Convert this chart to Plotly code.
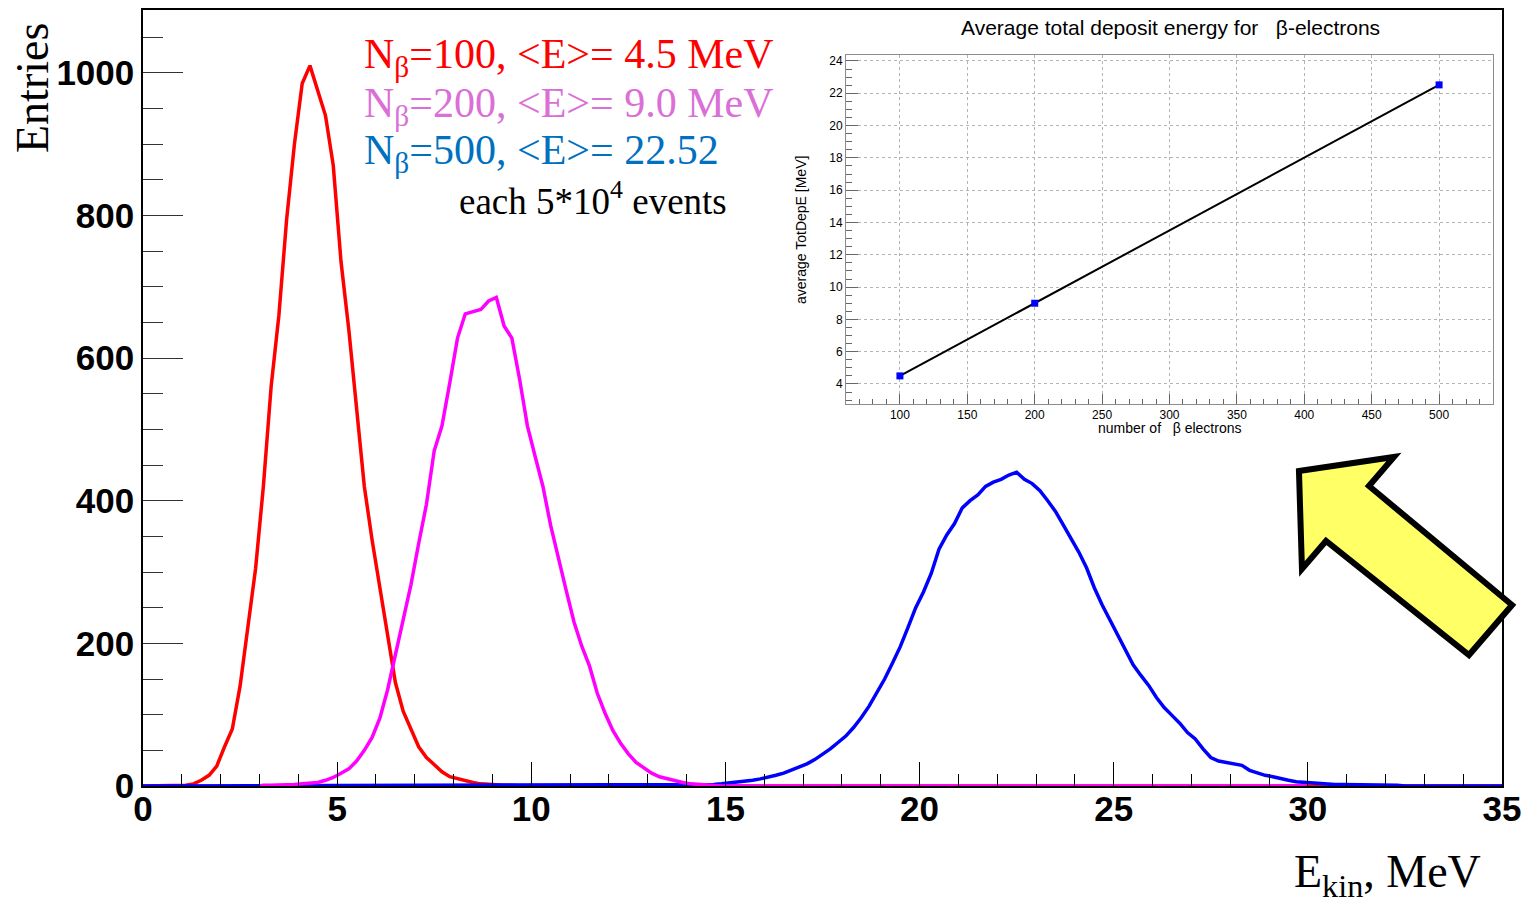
import numpy as np
import plotly.graph_objects as go

# ---------------- data ----------------
BIN_WIDTH = 0.2          # MeV
X_MIN, X_MAX = 0.0, 35.0

# N_beta = 100 : first bin starts at 0.8 MeV
red_first_edge = 0.8
red_counts = [0, 1, 3, 8, 15, 28, 55, 80, 140, 225,
              305, 420, 560, 660, 795, 900, 985, 1010, 975, 940,
              870, 735, 640, 525, 420, 345, 280, 210, 145, 105,
              80, 55, 40, 30, 20, 13, 10, 7, 5, 3,
              2, 2, 1, 1, 0]

# N_beta = 200 : first bin starts at 3.0 MeV, histogram drawn up to 30 MeV
mag_first_edge = 3.0
mag_last_edge = 30.0
mag_counts = [1, 1, 1, 2, 2, 3, 4, 5, 8, 12,
              18, 24, 35, 50, 68, 95, 135, 185, 234, 282,
              340, 395, 470, 505, 565, 628, 662, 665, 668, 680,
              685, 645, 628, 570, 505, 462, 420, 365, 318, 274,
              230, 196, 168, 130, 102, 78, 60, 45, 33, 25,
              18, 13, 10, 7, 5, 3, 2, 1, 1, 0]

# N_beta = 500 : first bin starts at 14.0 MeV
blue_first_edge = 14.0
blue_counts = [1, 1, 2, 2, 3, 4, 5, 6, 8, 10,
               12, 15, 18, 22, 26, 31, 37, 44, 52, 61,
               70, 82, 96, 112, 130, 150, 172, 195, 222, 250,
               272, 298, 332, 352, 368, 390, 400, 408, 420, 426,
               430, 436, 440, 430, 424, 414, 400, 385, 366, 348,
               328, 306, 278, 254, 233, 212, 190, 170, 155, 141,
               124, 110, 99, 88, 75, 66, 52, 40, 35, 33,
               31, 29, 22, 18, 15, 13, 10, 8, 6, 5,
               4, 3, 3, 2, 2, 2, 1, 1, 1, 1,
               1, 1, 0]

# inset graph
n_beta = [100, 200, 500]
avg_dep_e = [4.5, 9.0, 22.52]

legend_lines = ["N<sub>β</sub>=100, &lt;E&gt;= 4.5 MeV",
                "N<sub>β</sub>=200, &lt;E&gt;= 9.0 MeV",
                "N<sub>β</sub>=500, &lt;E&gt;= 22.52"]
events_line = "each 5*10<sup>4</sup> events"

# ---------------- helpers ----------------
W, H = 1523, 903
PL, PR, PT, PB = 143, 1502, 10, 786      # plot frame in pixels


def px_x(px):
    return (px - PL) / (PR - PL)


def px_y(py):
    return (PB - py) / (PB - PT)


def hist_line(first_edge, counts, lo, hi):
    """Histogram drawn as a polyline through bin centres, with empty range [lo, hi] at zero."""
    centers = first_edge + BIN_WIDTH * (np.arange(len(counts)) + 0.5)
    xs = np.concatenate([[lo], centers, [hi]])
    ys = [0] + list(counts) + [0]
    return xs, ys


fig = go.Figure()

rx, ry = hist_line(red_first_edge, red_counts, X_MIN, X_MAX)
bx, by = hist_line(blue_first_edge, blue_counts, X_MIN, X_MAX)
mx, my = hist_line(mag_first_edge, mag_counts, mag_first_edge, mag_last_edge)

fig.add_trace(go.Scatter(x=rx, y=ry, mode="lines", line=dict(color="#ff0000", width=3.5),
                         showlegend=False))
fig.add_trace(go.Scatter(x=bx, y=by, mode="lines", line=dict(color="#0000ff", width=3.5),
                         showlegend=False))
fig.add_trace(go.Scatter(x=mx, y=my, mode="lines", line=dict(color="#ff00ff", width=3.5),
                         showlegend=False))

# inset graph
fig.add_trace(go.Scatter(x=n_beta, y=avg_dep_e, mode="lines+markers", xaxis="x2", yaxis="y2",
                         line=dict(color="black", width=2),
                         marker=dict(symbol="square", size=7, color="#0000ff"),
                         showlegend=False))

tick_font = dict(family="Liberation Sans, Arial, sans-serif", size=35, color="black", weight="bold")
inset_font = dict(family="Liberation Sans, Arial, sans-serif", size=12, color="black")

fig.update_layout(
    width=W, height=H,
    margin=dict(l=PL, r=W - PR, t=PT, b=H - PB, autoexpand=False),
    paper_bgcolor="white", plot_bgcolor="white",
    xaxis=dict(range=[X_MIN, X_MAX], domain=[0, 1], showgrid=False, zeroline=False, automargin=False,
               showline=True, linecolor="black", linewidth=1.5, mirror=True,
               ticks="inside", tickcolor="black", ticklen=24, tickwidth=1.2,
               tick0=0, dtick=5, tickfont=tick_font, ticklabelstandoff=-9,
               minor=dict(ticks="inside", ticklen=12, dtick=1, tickcolor="black", tickwidth=1.2)),
    yaxis=dict(range=[0, 1088], domain=[0, 1], showgrid=False, zeroline=False, automargin=False,
               showline=True, linecolor="black", linewidth=1.5, mirror=True,
               ticks="inside", tickcolor="#333333", ticklen=40, tickwidth=1.2,
               tick0=0, dtick=200, tickfont=tick_font,
               minor=dict(ticks="inside", ticklen=20, dtick=50, tickcolor="#333333", tickwidth=1.2)),
    xaxis2=dict(range=[60, 540], domain=[px_x(846), px_x(1493)], anchor="y2", automargin=False,
                showline=True, linecolor="#8c8c8c", linewidth=1, mirror=True,
                showgrid=True, gridcolor="#b4b4b4", griddash="dot", gridwidth=1,
                zeroline=False, ticks="inside", ticklen=10, tickcolor="#666666",
                tick0=0, dtick=50, tickfont=inset_font, ticklabelstandoff=0,
                minor=dict(ticks="inside", ticklen=5, dtick=10, tickcolor="#666666", showgrid=False)),
    yaxis2=dict(range=[2.76, 24.37], domain=[px_y(404), px_y(55)], anchor="x2", automargin=False,
                showline=True, linecolor="#8c8c8c", linewidth=1, mirror=True,
                showgrid=True, gridcolor="#b4b4b4", griddash="dot", gridwidth=1,
                zeroline=False, ticks="inside", ticklen=12, tickcolor="#666666",
                tick0=0, dtick=2, tickfont=inset_font,
                minor=dict(ticks="inside", ticklen=6, dtick=0.5, tickcolor="#666666", showgrid=False)),
)

serif = "Liberation Serif, Times New Roman, serif"
sans = "Liberation Sans, Arial, sans-serif"
ann = []
# axis titles
ann.append(dict(text="Entries", x=px_x(33), y=px_y(88), xref="paper", yref="paper",
                textangle=-90, showarrow=False, xanchor="center", yanchor="middle",
                font=dict(family=serif, size=46, color="black")))
ann.append(dict(text="E<sub>kin</sub>, MeV", x=px_x(1483), y=px_y(875), xref="paper", yref="paper",
                showarrow=False, xanchor="right", yanchor="middle",
                font=dict(family=serif, size=46, color="black")))
# legend-like text
leg_colors = ["#ff0000", "#da70d6", "#0070c0"]
leg_y = [57, 106, 153]
for t, c, yy in zip(legend_lines, leg_colors, leg_y):
    ann.append(dict(text=t, x=px_x(362), y=px_y(yy), xref="paper", yref="paper",
                    showarrow=False, xanchor="left", yanchor="middle",
                    font=dict(family=serif, size=42, color=c)))
ann.append(dict(text=events_line, x=px_x(457), y=px_y(198), xref="paper", yref="paper",
                showarrow=False, xanchor="left", yanchor="middle",
                font=dict(family=serif, size=37, color="black")))
# inset texts
ann.append(dict(text="Average total deposit energy for   β-electrons", x=px_x(1170), y=px_y(27),
                xref="paper", yref="paper", showarrow=False, xanchor="center", yanchor="middle",
                font=dict(family=sans, size=21, color="black")))
ann.append(dict(text="number of   β electrons", x=px_x(1169), y=px_y(428),
                xref="paper", yref="paper", showarrow=False, xanchor="center", yanchor="middle",
                font=dict(family=sans, size=14, color="black")))
ann.append(dict(text="average TotDepE [MeV]", x=px_x(801), y=px_y(230), textangle=-90,
                xref="paper", yref="paper", showarrow=False, xanchor="center", yanchor="middle",
                font=dict(family=sans, size=14, color="black")))
fig.update_layout(annotations=ann)

# yellow arrow (decoration), vertices in pixels
arrow_px = [(1299, 471), (1394, 457), (1369, 486), (1512, 605), (1469, 655), (1326, 541), (1302, 569)]
path = "M " + " L ".join(f"{px_x(a):.4f},{px_y(b):.4f}" for a, b in arrow_px) + " Z"
fig.add_shape(type="path", path=path, xref="paper", yref="paper",
              fillcolor="#ffff66", line=dict(color="black", width=6), layer="above")

fig.write_html("out.html")
